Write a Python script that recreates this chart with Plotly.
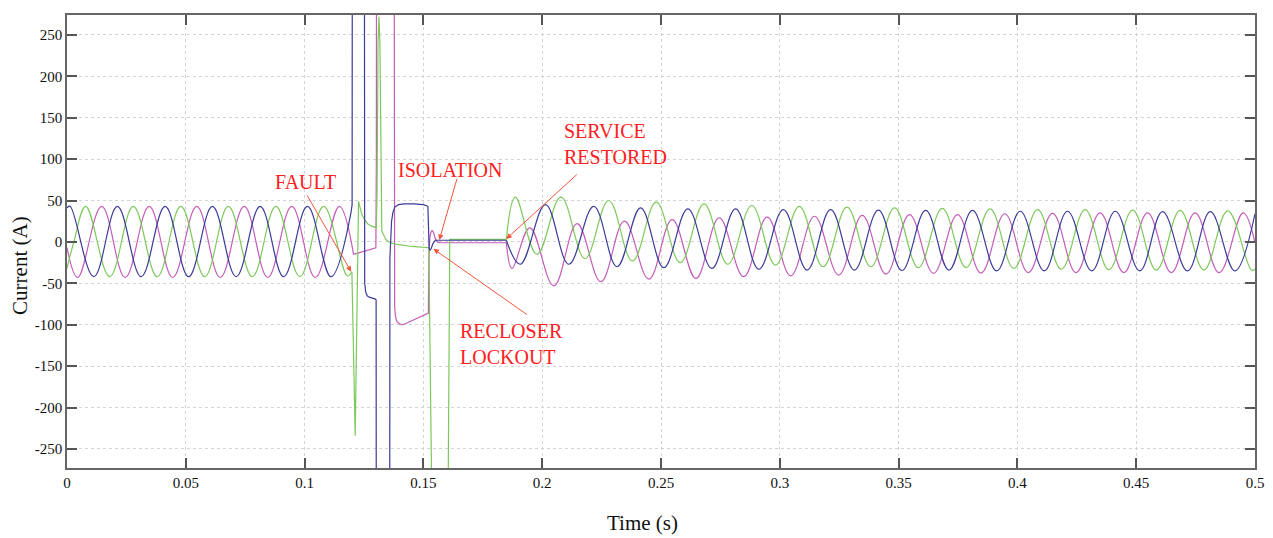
import plotly.graph_objects as go

# ---------------- data ----------------
# Pre-fault steady state: extrema of each phase (s, A)
blue_pre_t = [0, 0.0013, 0.0113, 0.0212, 0.0312, 0.0413, 0.0512, 0.0612, 0.0712, 0.0813, 0.0912, 0.1012, 0.1111, 0.1195]
blue_pre_i = [41, 43, -42, 43, -42, 43, -42, 43, -42, 43, -42, 43, -42, 35]

green_pre_t = [0, 0.0029, 0.0079, 0.0180, 0.0279, 0.0380, 0.0479, 0.0580, 0.0679, 0.0780, 0.0879, 0.0980, 0.1080, 0.1180, 0.1199]
green_pre_i = [-32, 0, 43, -42, 43, -42, 43, -42, 43, -42, 43, -42, 43, -41, -36]

pink_pre_t = [0, 0.0045, 0.0146, 0.0245, 0.0346, 0.0445, 0.0546, 0.0645, 0.0746, 0.0845, 0.0946, 0.1045, 0.1146, 0.1206]
pink_pre_i = [-7, -43, 43, -43, 43, -43, 43, -43, 43, -43, 43, -43, 43, -15]

# Fault / recloser / isolation transient (s, A); values beyond the axis are clipped
blue_tr_t = [0.1195, 0.1200, 0.1202, 0.1250, 0.1253, 0.1257, 0.1263, 0.1275, 0.1298, 0.1301, 0.1303,
             0.1357, 0.1359, 0.1362, 0.1366, 0.1372, 0.1380, 0.1395, 0.1420, 0.1460, 0.1500, 0.1519,
             0.1521, 0.1524, 0.1528, 0.1533, 0.1540, 0.1550, 0.1849]
blue_tr_i = [35, 45, 900, 900, -50, -60, -65, -67, -69, -70, -900,
             -900, -20, 10, 25, 36, 42, 45, 46, 46, 45, 43,
             -4, -8, -10, -8, -2, 2, 2]

pink_tr_t = [0.1206, 0.1300, 0.1302, 0.1304, 0.1375, 0.1377, 0.1379, 0.1382, 0.1388, 0.1400, 0.1415,
             0.1521, 0.1523, 0.1527, 0.1531, 0.1537, 0.1543, 0.1550, 0.1558, 0.1570, 0.1849]
pink_tr_i = [-15, -7, 100, 900, 900, 100, -78, -89, -96, -99, -100,
             -86, -20, 5, 11, 14, 11, 4, 0, -1, -1]

green_tr_t = [0.1199, 0.1213, 0.1227, 0.1233, 0.1241, 0.1252, 0.1265, 0.1282, 0.1302, 0.1305, 0.1309,
              0.1313, 0.1317, 0.1325, 0.1333, 0.1342, 0.1360, 0.1390, 0.1450, 0.1523, 0.1537,
              0.1603, 0.1611, 0.1849]
green_tr_i = [-36, -234, 49, 42, 33, 27, 22, 19, 17, 60, 240,
              272, 240, 13, 8, 3, -1, -3, -5.5, -7, -350,
              -350, 3, 3]

# Post-restoration: extrema of each phase (s, A)
blue_post_t = [0.1849, 0.1908, 0.2014, 0.2112, 0.2217, 0.2315, 0.2414, 0.2512, 0.2613, 0.2714, 0.2814,
               0.2912, 0.3015, 0.3115, 0.3214, 0.3314, 0.3415, 0.3514, 0.3614, 0.3712, 0.3811,
               0.3913, 0.4012, 0.4113, 0.4211, 0.4313, 0.4412, 0.4515, 0.4611, 0.4716, 0.4812,
               0.4915, 0.5]
blue_post_i = [2, -27, 45, -27, 43, -30, 41, -31, 40, -32, 40,
               -33, 39, -34, 39, -34, 38.5, -34.5, 38, -34, 38,
               -35, 37, -35, 37, -35, 37, -35, 36.5, -35, 36.5,
               -35, 34]

green_post_t = [0.1849, 0.1887, 0.1978, 0.2079, 0.2180, 0.2280, 0.2380, 0.2480, 0.2581, 0.2681, 0.2781,
                0.2882, 0.2982, 0.3082, 0.3182, 0.3283, 0.3383, 0.3483, 0.3583, 0.3684, 0.3784,
                0.3885, 0.3985, 0.4085, 0.4185, 0.4285, 0.4385, 0.4485, 0.4585, 0.4685, 0.4785,
                0.4885, 0.4985, 0.5]
green_post_i = [3, 54, -15, 54, -20, 50, -23, 48, -25, 46, -27,
                44, -28, 43, -30, 42, -30, 41, -31, 40.5, -31,
                40, -32, 39, -33, 39, -33.5, 38.5, -34, 38, -34,
                37.6, -34, -33]

pink_post_t = [0.1849, 0.1873, 0.1948, 0.2049, 0.2147, 0.2247, 0.2346, 0.2449, 0.2547, 0.2647, 0.2745,
               0.2848, 0.2947, 0.3046, 0.3146, 0.3248, 0.3347, 0.3447, 0.3546, 0.3647, 0.3748,
               0.3847, 0.3947, 0.4046, 0.4148, 0.4247, 0.4348, 0.4448, 0.4548, 0.4648, 0.4748,
               0.4849, 0.4950, 0.5]
pink_post_i = [-1, -32, 17, -53, 22, -48, 25, -45, 27, -44, 29,
               -42, 30, -41, 31, -40, 32, -39, 33, -38, 33,
               -37.6, 34, -37, 34.5, -37, 35, -37, 35, -37, 35,
               -37, 35, -1]

x_ticks = [0, 0.05, 0.1, 0.15, 0.2, 0.25, 0.3, 0.35, 0.4, 0.45, 0.5]
x_tick_labels = ["0", "0.05", "0.1", "0.15", "0.2", "0.25", "0.3", "0.35", "0.4", "0.45", "0.5"]
y_ticks = [-250, -200, -150, -100, -50, 0, 50, 100, 150, 200, 250]
y_tick_labels = ["-250", "-200", "-150", "-100", "-50", "0", "50", "100", "150", "200", "250"]

# ---------------- styling ----------------
BLUE = "#3b3b98"
GREEN = "#7cc95a"
PINK = "#c45cb8"
RED = "#ff2020"
ARROW = "#f2553a"
SERIF = "Liberation Serif, Times New Roman, serif"

fig = go.Figure()

def add(t, i, color, smooth):
    fig.add_trace(go.Scatter(
        x=t, y=i, mode="lines",
        line=dict(color=color, width=1.2,
                  shape="spline" if smooth else "linear",
                  smoothing=1.1 if smooth else None),
        hoverinfo="skip", showlegend=False))

for t, i, c in [(pink_pre_t, pink_pre_i, PINK), (green_pre_t, green_pre_i, GREEN), (blue_pre_t, blue_pre_i, BLUE)]:
    add(t, i, c, True)
for t, i, c in [(pink_tr_t, pink_tr_i, PINK), (green_tr_t, green_tr_i, GREEN), (blue_tr_t, blue_tr_i, BLUE)]:
    add(t, i, c, False)
for t, i, c in [(pink_post_t, pink_post_i, PINK), (green_post_t, green_post_i, GREEN), (blue_post_t, blue_post_i, BLUE)]:
    add(t, i, c, True)

axis_common = dict(
    showline=True, linecolor="#666666", linewidth=1.5, mirror="ticks",
    ticks="inside", ticklen=10, tickwidth=1.5, tickcolor="#555555",
    showgrid=True, gridcolor="#d4d4d4", gridwidth=1, griddash="dot",
    zeroline=False,
    tickfont=dict(family=SERIF, size=15, color="#111111"),
)

fig.update_xaxes(range=[0, 0.5], tickvals=x_ticks, ticktext=x_tick_labels, **axis_common)
fig.update_yaxes(range=[-273, 274], tickvals=y_ticks, ticktext=y_tick_labels, **axis_common)

annotations = []
# arrows (drawn alone, tail -> tip in data coordinates)
for (tx, ty, hx, hy) in [
    (0.1007, 58, 0.1196, -36),     # FAULT
    (0.1643, 78, 0.1567, 2.4),     # ISOLATION
    (0.2152, 83, 0.1849, 3.6),     # SERVICE RESTORED
    (0.1942, -89, 0.1542, -8.4),   # RECLOSER LOCKOUT
]:
    annotations.append(dict(x=hx, y=hy, ax=tx, ay=ty, xref="x", yref="y", axref="x", ayref="y",
                            text="", showarrow=True, arrowhead=2, arrowsize=1.1, arrowwidth=1,
                            arrowcolor=ARROW, standoff=0, startstandoff=0))
# labels
annotations += [
    dict(x=0.1005, y=72, xref="x", yref="y", text="FAULT", showarrow=False,
         xanchor="center", yanchor="middle", font=dict(family=SERIF, size=20, color=RED)),
    dict(x=0.1613, y=87, xref="x", yref="y", text="ISOLATION", showarrow=False,
         xanchor="center", yanchor="middle", font=dict(family=SERIF, size=20, color=RED)),
    dict(x=0.2085, y=118, xref="x", yref="y", text="SERVICE<br>RESTORED", showarrow=False,
         xanchor="left", yanchor="middle", align="left", font=dict(family=SERIF, size=20, color=RED)),
    dict(x=0.1647, y=-123, xref="x", yref="y", text="RECLOSER<br>LOCKOUT", showarrow=False,
         xanchor="left", yanchor="middle", align="left", font=dict(family=SERIF, size=20, color=RED)),
    dict(x=(642.5 - 67) / 1188, y=-(523 - 468) / 455, xref="paper", yref="paper", text="Time (s)",
         showarrow=False, xanchor="center", yanchor="middle", font=dict(family=SERIF, size=21, color="#111111")),
    dict(x=(20 - 67) / 1188, y=(468 - 265) / 455, xref="paper", yref="paper", text="Current (A)",
         textangle=-90, showarrow=False, xanchor="center", yanchor="middle",
         font=dict(family=SERIF, size=21, color="#111111")),
]

# the page body has an 8 px margin, so the figure is shifted by (8, 8);
# plot area lands at x 67..1255, y 13..468 of the window
fig.update_layout(
    width=1265, height=530,
    margin=dict(l=59, r=18, t=5, b=70),
    paper_bgcolor="white", plot_bgcolor="white",
    showlegend=False, hovermode=False,
    annotations=annotations,
)

fig.write_html("out.html")
